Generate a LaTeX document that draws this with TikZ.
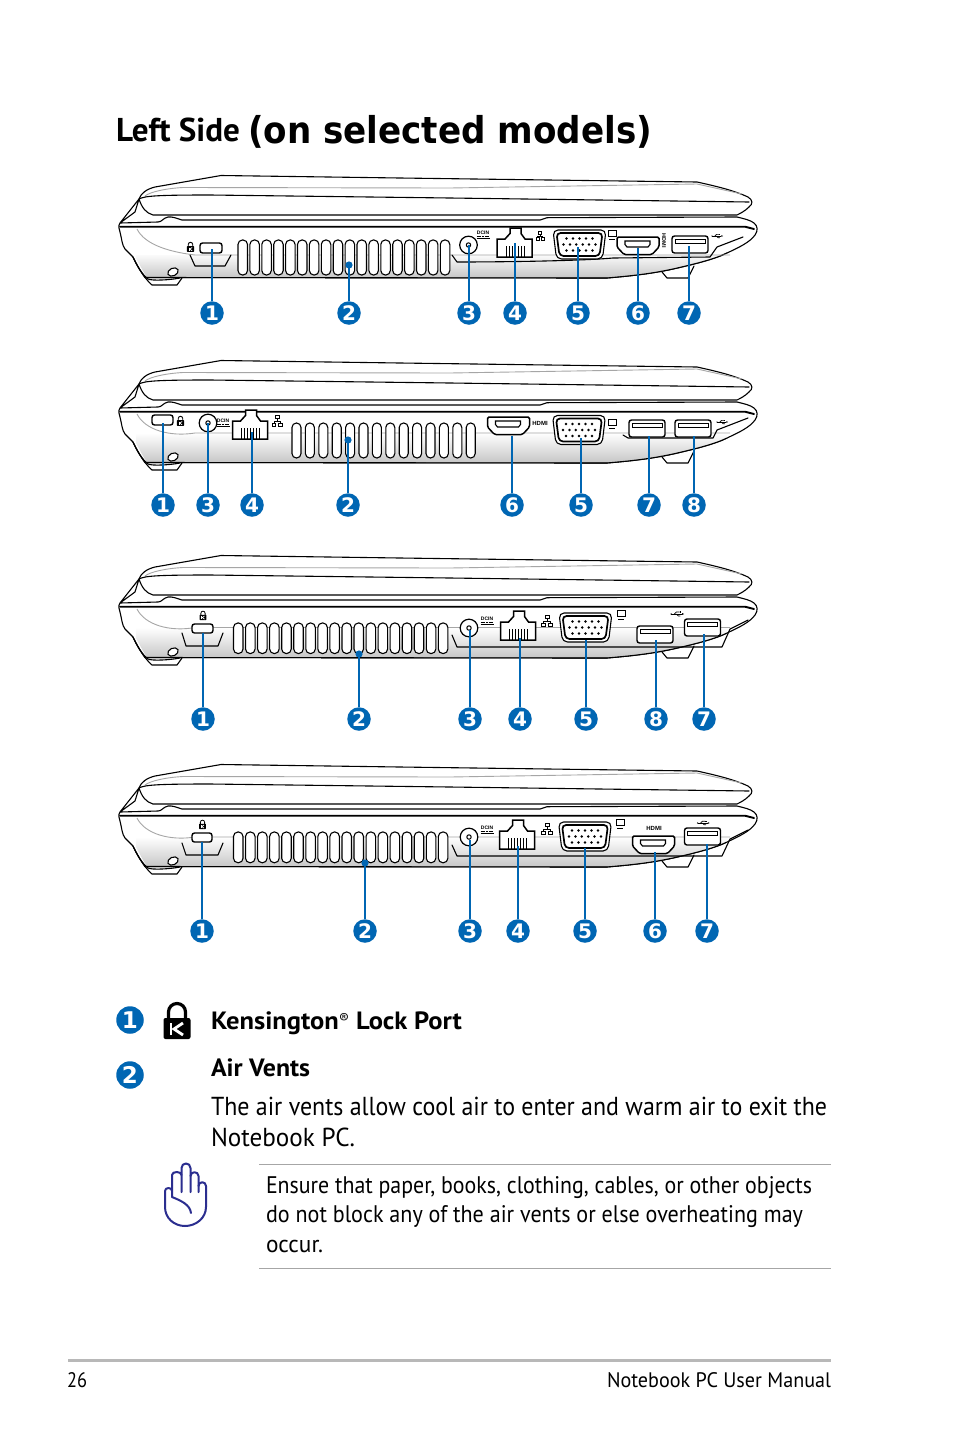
\documentclass[tikz,border=0pt]{standalone}
\usepackage{graphicx}
\usepackage{fontspec}
\setmainfont{PT Sans}
\newfontfamily\dejavu{DejaVu Sans}
\newfontfamily\libsans{Liberation Sans}
\definecolor{asusblue}{HTML}{0066B3}
\definecolor{handblue}{HTML}{2B2E8F}
\tikzset{
  ol/.style={line width=1.1pt,line join=round,line cap=round},
  thk/.style={line width=1.9pt,line cap=round},
  glin/.style={line width=0.9pt,color=black!35},
  lead/.style={line width=2pt,color=asusblue},
  badge/.style={circle,fill=asusblue,text=white,minimum size=23.5pt,inner sep=0pt,font=\fontsize{20}{20}\selectfont\dejavu\bfseries},
  bigbadge/.style={badge,minimum size=27.5pt,font=\fontsize{23}{23}\selectfont\dejavu\bfseries},
  txt/.style={anchor=base west,inner sep=0pt,outer sep=0pt,text=black},
  tiny/.style={inner sep=0pt,outer sep=0pt,text=black},
}
\newcommand{\fitw}[2]{\resizebox{#1pt}{\height}{#2}}
% laptop body: #1 vertical offset, #2 grey line level
\newcommand{\laptop}[2]{%
\begin{scope}[shift={(0,#1)}]
  \draw[ol,fill=white] (662,272) -- (667,278) -- (688,278) -- (694,266);
  \draw[ol,fill=white] (133,257) .. controls (138,268) and (145,279) .. (152,285) -- (177,285) -- (182,278);
  \draw[ol,fill=white] (139,199) -- (135,212) -- (120,223) .. controls (118,226) and (119,229) .. (120,232) .. controls (122,240) and (122,245) .. (125,249) -- (133,257) .. controls (137,265) and (141,272) .. (145,277.5) -- (607,278) .. controls (630,276) and (650,274) .. (673,269) .. controls (695,264) and (715,259) .. (727,253) .. controls (740,247) and (750,242) .. (755,235) .. controls (758,231) and (758,226) .. (754,223) .. controls (750,220) and (745,219) .. (737,217) -- (547,217.7) -- (540,220) -- (182,220) .. controls (176,218) and (172,216.5) .. (168,217) .. controls (163,218) and (162,222) .. (158,222) -- (120,223) -- cycle;
  \shade[top color=white,bottom color=black!22] (195,#2) -- (727,#2) -- (727,253) .. controls (715,259) and (695,264) .. (673,269) .. controls (650,274) and (630,276) .. (607,277.4) -- (147,277) .. controls (143,272) and (140,265) .. (136,258) -- (136,#2) -- cycle;
  \draw[ol] (133,257) .. controls (138,268) and (143,275) .. (148,279) .. controls (152,281) and (170,280) .. (180,278);
  \draw[ol,fill=white] (173,272) circle[x radius=5.5,y radius=3.8,rotate=25];
  \draw[ol] (145,277.5) -- (607,278) .. controls (630,276) and (650,274) .. (673,269) .. controls (695,264) and (715,259) .. (727,253);
  \draw[glin] (137,229) .. controls (145,245) and (170,252) .. (195,#2) -- (730,#2);
  \draw[thk] (120,226.7) -- (745,226.7) -- (754,229);
  \draw[ol,fill=white] (139,199) .. controls (141,193) and (147,189) .. (155,187) -- (221,175.5) -- (400,178) -- (697,182) .. controls (720,187) and (735,191) .. (748,197) .. controls (753,200) and (753,204) .. (749,207) .. controls (745,211) and (741,213) .. (737,215) -- (153,215) .. controls (146,213) and (142,208) .. (139,199) -- cycle;
  \draw[glin] (145,196) .. controls (150,192) and (165,188.5) .. (183,187.5) -- (450,188) -- (697,184) -- (742,194);
  \draw[ol] (139,199) .. controls (145,196) and (155,195) .. (210,195) -- (450,198) -- (749,202);
\end{scope}}
\newcommand{\vents}[6]{% first x, pitch, width, y0, y1, last index
  \foreach \i in {0,...,#6}{%
    \draw[ol,fill=white,rounded corners=4.4pt] ({#1+#2*\i},#4) rectangle ({#1+#2*\i+#3},#5);}}
\newcommand{\vgaport}[2]{%
\begin{scope}[shift={(#1,#2)}]
  \draw[ol,fill=white,rounded corners=5pt] (-26.5,-14.5) -- (26.5,-14.5) -- (23,14.5) -- (-23,14.5) -- cycle;
  \draw[line width=1.7pt,fill=white,rounded corners=4pt] (-23,-11.5) -- (23,-11.5) -- (20,11.5) -- (-20,11.5) -- cycle;
  \foreach \q in {-13,-6.5,0,6.5,13}{\fill (\q,-6) circle[radius=1.4]; \fill (\q,6) circle[radius=1.4];}
  \foreach \q in {-16,-9.5,-3.2,3.2,9.5,16}{\fill (\q,0) circle[radius=1.4];}
\end{scope}}
\newcommand{\rjport}[2]{%
\begin{scope}[shift={(#1,#2)}]
  \draw[line width=1.5pt,fill=white,line join=miter] (0,29) -- (0,11) -- (8,11) -- (13,5.5) -- (13,0) -- (24,0) -- (24,5.5) -- (28,11) -- (35,11) -- (35,29) -- cycle;
  \foreach \q in {9,12,15,18,21,24,27}{\draw[line width=0.6pt] (\q,18) -- (\q,29);}
\end{scope}}
\newcommand{\hdmiport}[2]{%
\begin{scope}[shift={(#1,#2)}]
  \draw[line width=1.5pt,fill=white,rounded corners=1.5pt] (0,0) -- (42,0) -- (42,10) -- (35,17.5) -- (7,17.5) -- (0,10) -- cycle;
  \draw[line width=1.1pt,fill=white] (8,4) -- (33,4) -- (33,7.5) -- (31,10) -- (10,10) -- (8,7.5) -- cycle;
\end{scope}}
\newcommand{\usbport}[2]{%
\begin{scope}[shift={(#1,#2)}]
  \draw[line width=1.4pt,fill=white,rounded corners=2.5pt] (0,0) rectangle (36,17);
  \draw[line width=0.9pt] (3,3) rectangle (33,7.5);
\end{scope}}
\newcommand{\kensport}[4]{\draw[line width=1.4pt,fill=white,rounded corners=2.5pt] (#1,#2) rectangle (#3,#4);}
\newcommand{\jackport}[2]{%
  \draw[line width=1.2pt,fill=white] (#1,#2) circle[radius=8.8];
  \draw[line width=1pt,fill=white] (#1,#2) circle[radius=2.2];}
\newcommand{\lockicon}[3]{%
\begin{scope}[shift={(#1,#2)},scale=#3]
  \draw[line width={3.2*#3 pt}] (-8.5,-3) -- (-8.5,-9) arc[start angle=180,end angle=360,radius=8.5] -- (8.5,-3);
  \fill[rounded corners={2*#3 pt}] (-13.5,-3) rectangle (13.5,18);
  \draw[white,line width={2.8*#3 pt}] (-6,2) -- (-6,14);
  \draw[white,line width={2.8*#3 pt}] (6,2) -- (-3,8) -- (6,14);
\end{scope}}
\newcommand{\neticon}[3]{%
\begin{scope}[shift={(#1,#2)},scale=#3,line width=0.6pt]
  \draw (-2,-6) rectangle (2,-2.5); \draw (-5.5,2) rectangle (-1.5,5.5); \draw (1.5,2) rectangle (5.5,5.5);
  \draw (0,-2.5) -- (0,0); \draw (-3.5,2) -- (-3.5,0) -- (3.5,0) -- (3.5,2);
\end{scope}}
\newcommand{\monicon}[2]{%
\begin{scope}[shift={(#1,#2)},line width=0.7pt]
  \draw (-4,-4) rectangle (4,2.5); \draw (-3,5) -- (3,5);
\end{scope}}
\newcommand{\usbicon}[3]{%
\begin{scope}[shift={(#1,#2)},scale=#3,line width=0.7pt]
  \draw (-9,0) -- (8,0); \fill (-9,0) circle[radius=1.2];
  \draw (-4,0) -- (-1,-3) -- (4,-3); \draw (-1,0) -- (2,3) -- (5,3);
  \fill (4,-4) rectangle (6,-2); \fill (8,-1.5) -- (11,0) -- (8,1.5) -- cycle;
\end{scope}}
\newcommand{\callout}[5]{% id, x, y0, y1, number
  \coordinate (p#1) at (#2,#3);
  \node[badge] (b#1) at (#2,#4) {#5};
  \draw[lead] (p#1) -- (b#1);}
\newcommand{\dcin}[3]{%
  \node[tiny,font=\fontsize{5}{5}\selectfont\libsans\bfseries] (#3) at (#1,#2) {DCIN};
  \draw[line width=0.6pt,dash pattern=on 2pt off 0.7pt] (#1-6.5,#2+3.5) -- (#1+6.5,#2+3.5);
  \draw[line width=0.6pt] (#1-6.5,#2+5) -- (#1+6.5,#2+5);}
\begin{document}
\begin{tikzpicture}[x=1pt,y=-1pt]
\useasboundingbox (0,0) rectangle (954,1438);
\fill[white] (0,0) rectangle (954,1438);

% title
\node[txt] (title1) at (116,141) {\fitw{124}{\fontsize{33}{33}\selectfont\bfseries Left Side}};
\node[txt] (title2) at (248,143) {\fitw{404}{\fontsize{37}{37}\selectfont\dejavu\bfseries (on selected models)}};

% ---------- laptop 1
\laptop{0}{255}
\draw[ol] (190,255) -- (195,266) -- (225,266) -- (231,255);
\draw[ol] (452,255) -- (457,262) .. controls (500,262) and (580,261) .. (613,258) -- (710,257) -- (717,247) -- (743,237);
\vents{238}{11.9}{9.5}{240}{275}{17}
\kensport{200}{243}{222}{253}
\lockicon{190.5}{247}{0.27}
\jackport{468.5}{245}
\dcin{483}{233}{d1}
\rjport{497}{228}
\neticon{540}{236}{0.75}
\vgaport{579.5}{244.5}
\monicon{612}{234}
\hdmiport{617}{237}
\node[tiny,rotate=-90,font=\fontsize{5.5}{5.5}\selectfont\libsans\bfseries] (h1) at (664,241) {HDMI};
\usbport{672}{236}
\usbicon{717}{236}{0.55}
\callout{a1}{212}{249}{313}{1}
\callout{a2}{349}{265}{313}{2}
\fill[asusblue] (pa2) circle[radius=3.6];
\callout{a3}{469}{245}{313}{3}
\callout{a4}{515}{243}{313}{4}
\callout{a5}{578}{247}{313}{5}
\callout{a6}{638}{248}{313}{6}
\callout{a7}{689}{246}{313}{7}

% ---------- laptop 2
\laptop{185}{248}
\draw[ol] (623,435) -- (628,438) -- (713,438) -- (717,430) -- (748,418);
\vents{292}{13.4}{9}{423}{458}{13}
\kensport{152}{415}{173}{425}
\lockicon{180.5}{421}{0.27}
\jackport{208}{423}
\dcin{223}{421}{d2}
\rjport{232.5}{410}
\neticon{277}{421}{0.9}
\hdmiport{487.5}{417}
\node[tiny,font=\fontsize{6}{6}\selectfont\libsans\bfseries] (h2) at (540,423) {HDMI};
\vgaport{579}{430}
\monicon{612}{423}
\usbport{629}{420}
\usbport{675}{420}
\usbicon{722}{422}{0.55}
\callout{b1}{163}{423}{505}{1}
\callout{b2}{348}{440}{505}{2}
\fill[asusblue] (pb2) circle[radius=3.6];
\callout{b3}{208}{423}{505}{3}
\callout{b4}{252}{432}{505}{4}
\callout{b6}{512}{436}{505}{6}
\callout{b5}{581}{438}{505}{5}
\callout{b7}{649}{436}{505}{7}
\callout{b8}{694}{436}{505}{8}

% ---------- laptop 3
\laptop{380}{247.5}
\draw[ol] (182,633) -- (186,646) -- (218,646) -- (223,633);
\draw[ol] (452,635) -- (457,647) -- (660,647) -- (722,647) -- (730,629) -- (748,620);
\vents{233.5}{12.05}{9.5}{623}{653.5}{17}
\kensport{192}{624}{213}{633}
\lockicon{203}{615.5}{0.25}
\jackport{469}{628}
\dcin{487}{619}{d3}
\rjport{500.5}{611}
\neticon{547}{621}{1}
\vgaport{585.5}{627.5}
\monicon{621}{614}
\usbport{637}{626}
\usbport{684.5}{619}
\usbicon{677}{614}{0.65}
\callout{c1}{203}{633}{719}{1}
\callout{c2}{359}{654}{719}{2}
\fill[asusblue] (pc2) circle[radius=3.6];
\callout{c3}{470}{630}{719}{3}
\callout{c4}{520}{638}{719}{4}
\callout{c5}{586}{640}{719}{5}
\callout{c8}{656}{640}{719}{8}
\callout{c7}{704}{634}{719}{7}

% ---------- laptop 4
\laptop{589}{248}
\draw[ol] (182,843) -- (186,855) -- (218,855) -- (223,843);
\draw[ol] (452,845) -- (457,856) -- (660,856) -- (722,856) -- (730,839) -- (748,830);
\vents{233.5}{12.05}{9.5}{832}{862.7}{17}
\kensport{192}{833}{212}{842}
\lockicon{202.5}{824.5}{0.25}
\jackport{469}{837}
\dcin{487}{828}{d4}
\rjport{499.5}{820}
\neticon{547}{829}{1}
\vgaport{585}{836.5}
\monicon{620}{823}
\hdmiport{632.5}{836}
\node[tiny,font=\fontsize{6}{6}\selectfont\libsans\bfseries] (h4) at (654,828) {HDMI};
\usbport{684.5}{828}
\usbicon{703}{823}{0.6}
\callout{e1}{202}{842}{931}{1}
\callout{e2}{365}{863}{931}{2}
\fill[asusblue] (pe2) circle[radius=3.6];
\callout{e3}{470}{840}{931}{3}
\callout{e4}{518}{846}{931}{4}
\callout{e5}{585}{848}{931}{5}
\callout{e6}{655}{852}{931}{6}
\callout{e7}{707}{844}{931}{7}

% ---------- legend
\node[bigbadge] (k1) at (130,1020) {1};
\lockicon{177}{1021}{1}
\node[txt] (k1t) at (211,1029) {\fitw{251}{\fontsize{25}{25}\selectfont\bfseries Kensington\raisebox{5.5pt}{\fontsize{14}{14}\selectfont\mdseries ®} Lock Port}};
\node[bigbadge] (k2) at (130,1075) {2};
\node[txt] (k2t) at (211,1076) {\fitw{99}{\fontsize{25}{25}\selectfont\bfseries Air Vents}};
\node[txt] (l1) at (211,1115) {\fitw{616}{\fontsize{26}{26}\selectfont The air vents allow cool air to enter and warm air to exit the}};
\node[txt] (l2) at (211,1146) {\fitw{144}{\fontsize{26}{26}\selectfont Notebook PC.}};

% hand
\begin{scope}[line width=2pt,color=handblue,line cap=round,line join=round]
  \draw (191,1213) .. controls (190,1205) and (182,1201) .. (172,1197) -- (172,1175) .. controls (172,1171) and (181.5,1171) .. (181.5,1175);
  \draw (181.5,1192) -- (181.5,1168) .. controls (181.5,1162) and (190.5,1162) .. (190.5,1168) -- (190.5,1192);
  \draw (190.5,1176) .. controls (190.5,1171) and (198.5,1171) .. (198.5,1176) -- (198.5,1192);
  \draw (198.5,1186) .. controls (198.5,1181) and (206,1181) .. (206,1186) -- (206,1207) .. controls (206,1218) and (196,1226) .. (185,1226) .. controls (174,1226) and (165,1218) .. (165,1207) -- (165,1191) .. controls (165,1187) and (172,1187) .. (172,1191);
\end{scope}

% note
\draw[line width=0.8pt,color=black!35] (259,1164.5) -- (831,1164.5);
\draw[line width=0.8pt,color=black!35] (259,1268.5) -- (831,1268.5);
\node[txt] (n1) at (266,1193) {\fitw{546}{\fontsize{24}{24}\selectfont Ensure that paper, books, clothing, cables, or other objects}};
\node[txt] (n2) at (266,1222) {\fitw{537}{\fontsize{24}{24}\selectfont do not block any of the air vents or else overheating may}};
\node[txt] (n3) at (266,1252) {\fitw{57}{\fontsize{24}{24}\selectfont occur.}};

% footer
\draw[line width=2.6pt,color=black!28] (68,1360.5) -- (831,1360.5);
\node[txt] (f1) at (67,1387) {\fitw{20}{\fontsize{21}{21}\selectfont 26}};
\node[txt] (f2) at (607,1387) {\fitw{224}{\fontsize{21}{21}\selectfont Notebook PC User Manual}};
\end{tikzpicture}
\end{document}
